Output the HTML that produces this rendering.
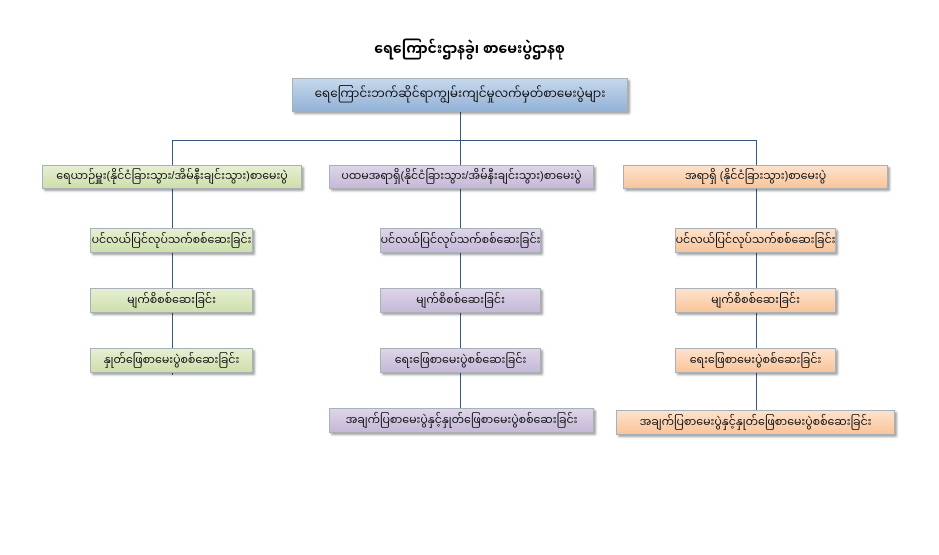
<!DOCTYPE html>
<html><head><meta charset="utf-8"><style>
body{margin:0;width:939px;height:555px;background:#fff;position:relative;overflow:hidden;font-family:"Liberation Sans","Noto Sans Myanmar","Padauk","Myanmar Text",sans-serif;}
.b{position:absolute;box-sizing:border-box;border:1px solid #a9b1b8;display:flex;align-items:center;justify-content:center;font-size:11px;color:#111;white-space:nowrap;box-shadow:2px 2px 2px rgba(0,0,0,.35);}
.g{background:linear-gradient(#e6efd3,#cfdfab);}
.p{background:linear-gradient(#ddd5e8,#c6b9d8);}
.o{background:linear-gradient(#fde2cc,#f9c59b);}
.bl{background:linear-gradient(#c6d8ec,#93b3d6);}
.l{position:absolute;background:#35597e;}
</style></head><body>
<div style="position:absolute;left:0;width:939px;top:35px;text-align:center;font-size:14px;font-weight:bold;">ရေကြောင်းဌာနခွဲ၊ စာမေးပွဲဌာနစု</div>
<div class="l" style="left:460px;top:112px;width:1px;height:28px"></div>
<div class="l" style="left:172px;top:140px;width:585px;height:1px"></div>
<div class="l" style="left:172px;top:140px;width:1px;height:235px"></div>
<div class="l" style="left:460px;top:140px;width:1px;height:270px"></div>
<div class="l" style="left:756px;top:140px;width:1px;height:272px"></div>
<div class="b bl" style="left:292px;top:78px;width:336px;height:34px;font-size:12px">ရေကြောင်းဘက်ဆိုင်ရာကျွမ်းကျင်မှုလက်မှတ်စာမေးပွဲများ</div>

<div class="b g" style="left:42px;top:165px;width:260px;height:24px">ရေယာဉ်မှူး(နိုင်ငံခြားသွား/အိမ်နီးချင်းသွား)စာမေးပွဲ</div>
<div class="b g" style="left:90px;top:228px;width:163px;height:25px">ပင်လယ်ပြင်လုပ်သက်စစ်ဆေးခြင်း</div>
<div class="b g" style="left:90px;top:288px;width:163px;height:25px">မျက်စိစစ်ဆေးခြင်း</div>
<div class="b g" style="left:90px;top:348px;width:163px;height:25px">နှုတ်ဖြေစာမေးပွဲစစ်ဆေးခြင်း</div>

<div class="b p" style="left:329px;top:165px;width:265px;height:24px">ပထမအရာရှိ(နိုင်ငံခြားသွား/အိမ်နီးချင်းသွား)စာမေးပွဲ</div>
<div class="b p" style="left:380px;top:228px;width:161px;height:25px">ပင်လယ်ပြင်လုပ်သက်စစ်ဆေးခြင်း</div>
<div class="b p" style="left:380px;top:288px;width:161px;height:25px">မျက်စိစစ်ဆေးခြင်း</div>
<div class="b p" style="left:380px;top:348px;width:161px;height:25px">ရေးဖြေစာမေးပွဲစစ်ဆေးခြင်း</div>
<div class="b p" style="left:329px;top:408px;width:265px;height:25px">အချက်ပြစာမေးပွဲနှင့်နှုတ်ဖြေစာမေးပွဲစစ်ဆေးခြင်း</div>

<div class="b o" style="left:623px;top:165px;width:265px;height:24px">အရာရှိ (နိုင်ငံခြားသွား)စာမေးပွဲ</div>
<div class="b o" style="left:675px;top:228px;width:161px;height:25px">ပင်လယ်ပြင်လုပ်သက်စစ်ဆေးခြင်း</div>
<div class="b o" style="left:675px;top:288px;width:161px;height:25px">မျက်စိစစ်ဆေးခြင်း</div>
<div class="b o" style="left:675px;top:348px;width:161px;height:25px">ရေးဖြေစာမေးပွဲစစ်ဆေးခြင်း</div>
<div class="b o" style="left:616px;top:410px;width:279px;height:25px">အချက်ပြစာမေးပွဲနှင့်နှုတ်ဖြေစာမေးပွဲစစ်ဆေးခြင်း</div>
</body></html>
